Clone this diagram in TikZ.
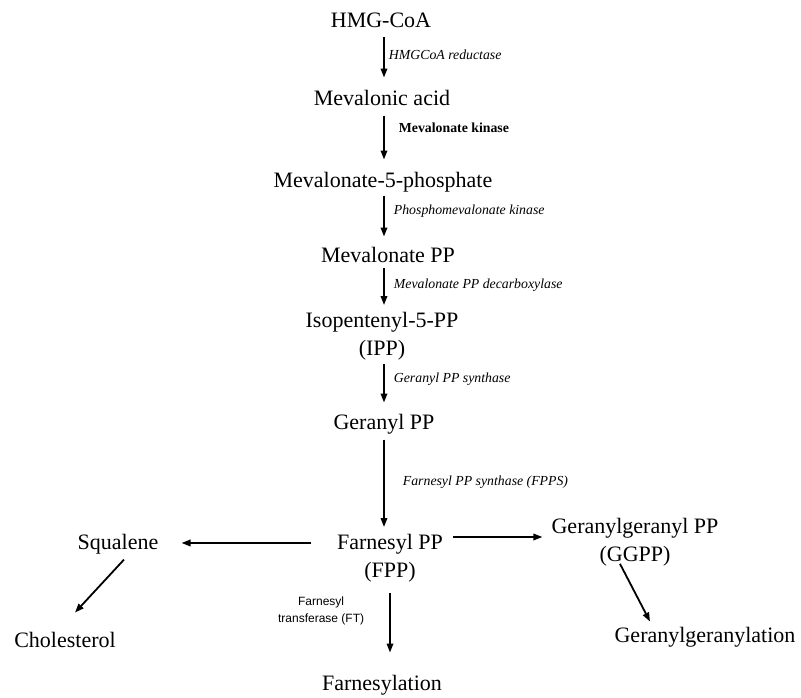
\documentclass[tikz,border=0pt]{standalone}
\usepackage{fontspec}
\setmainfont{Liberation Serif}
\newfontfamily\enzsans{Liberation Sans}
\usetikzlibrary{arrows.meta, positioning}

\begin{document}
\begin{tikzpicture}[
    x=1pt, y=-1pt,
    chem/.style={inner sep=0pt, font=\fontsize{22}{27.5}\selectfont, anchor=base, text depth=0.22em},
    chemtwo/.style={inner sep=0pt, font=\fontsize{22}{27.5}\selectfont, anchor=north, align=center},
    enzyme/.style={inner sep=0pt, font=\fontsize{13.8}{16}\selectfont\itshape, text height=0.7em, text depth=0.2em},
    enzbold/.style={enzyme, font=\fontsize{13.8}{16}\selectfont\bfseries},
    enzsmall/.style={inner sep=0pt, font=\enzsans\fontsize{12}{17}\selectfont, align=center},
    arrow/.style={-{Triangle[length=9pt, width=6.5pt]}, line width=1.8pt}
]
    \useasboundingbox (0,0) rectangle (801,698);

    % Nodes
    \node[chem] (hmgcoa) at (381,28) {HMG-CoA};
    \node[chem] (mevacid) at (382,105.5) {Mevalonic acid};
    \node[chem] (mevphos) at (383,187.5) {Mevalonate-5-phosphate};
    \node[chem] (mevpp) at (388,262.5) {Mevalonate PP};
    \node[chemtwo] (ipp) at (382,312.5) {Isopentenyl-5-PP\\(IPP)};
    \node[chem] (geranyl) at (384,429.5) {Geranyl PP};
    \node[chemtwo] (fpp) at (390,534.5) {Farnesyl PP\\(FPP)};
    \node[chem] (squalene) at (118,549.5) {Squalene};
    \node[chem] (cholesterol) at (65,647.5) {Cholesterol};
    \node[chem] (farnesylation) at (382,690.5) {Farnesylation};
    \node[chemtwo] (ggpp) at (635,518.5) {Geranylgeranyl PP\\(GGPP)};
    \node[chem] (ggylation) at (705,642.5) {Geranylgeranylation};

    \coordinate (axis) at (384,0);
    \coordinate (fppout) at ([yshift=-2.5pt]fpp.north east);

    % Main chain
    \draw[arrow, shorten <=7pt, shorten >=12.5pt] (hmgcoa.south -| axis) -- node[enzyme, right=4pt, pos=0.44] {HMGCoA reductase} (mevacid.north -| axis);
    \draw[arrow, shorten <=7.7pt, shorten >=12.5pt] (mevacid.south -| axis) -- node[enzbold, right=14pt, pos=0.35] {Mevalonate kinase} (mevphos.north -| axis);
    \draw[arrow, shorten <=5.7pt, shorten >=10.5pt] (mevphos.south -| axis) -- node[enzyme, right=9pt, pos=0.39] {Phosphomevalonate kinase} (mevpp.north -| axis);
    \draw[arrow, shorten <=3pt, shorten >=7.5pt] (mevpp.south -| axis) -- node[enzyme, right=9pt, pos=0.44] {Mevalonate PP decarboxylase} (ipp.north -| axis);
    \draw[arrow, shorten <=3.5pt, shorten >=11.5pt] (ipp.south -| axis) -- node[enzyme, right=9pt, pos=0.37] {Geranyl PP synthase} (geranyl.north -| axis);
    \draw[arrow, shorten <=7.7pt, shorten >=7.5pt] (geranyl.south -| axis) -- node[enzyme, right=18pt, pos=0.5] {Farnesyl PP synthase (FPPS)} (fpp.north -| axis);

    % Branches from FPP
    \draw[arrow, shorten <=25.5pt, shorten >=23pt] (fpp.west |- squalene.east) -- (squalene.east);
    \draw[arrow] ([shift={(6,7.7)}]squalene.south) -- ([shift={(10,-19.5)}]cholesterol.north);
    \draw[arrow, shorten <=10pt, shorten >=9pt] (fppout) -- (fppout -| ggpp.west);
    \draw[arrow] ([shift={(-15,-2.5)}]ggpp.south) -- ([shift={(-55,-5.5)}]ggylation.north);
    \draw[arrow, shorten <=11pt, shorten >=22.5pt] (fpp.south) -- node[enzsmall, left=25pt, pos=0.31] {Farnesyl\\transferase (FT)} (fpp.south |- farnesylation.north);

\end{tikzpicture}
\end{document}
